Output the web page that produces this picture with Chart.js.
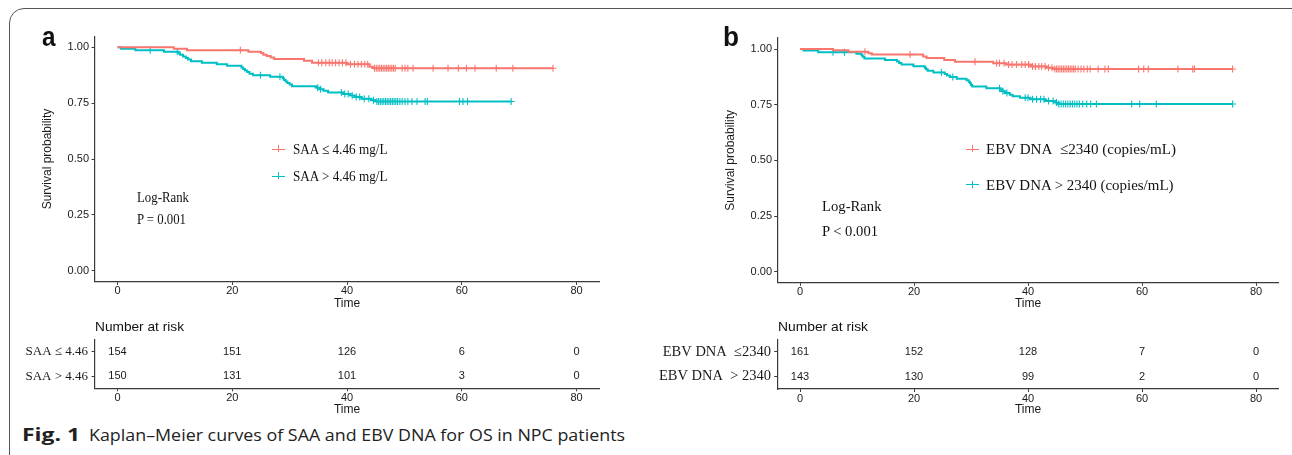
<!DOCTYPE html>
<html>
<head>
<meta charset="utf-8">
<script src="https://cdn.jsdelivr.net/npm/chart.js@4.4.1/dist/chart.umd.min.js"></script>
<style>
html, body { margin: 0; padding: 0; background: #fff; }
body { width: 1292px; height: 455px; position: relative; overflow: hidden; }
canvas { position: absolute; }
.frame { position: absolute; left: 9px; top: 8px; width: 1310px; height: 470px; border: 1.5px solid #555; border-radius: 15px; box-sizing: border-box; }
.t { position: absolute; white-space: pre; transform-origin: 0 0; line-height: 1; color: #111; }
.serif { font-family: "Liberation Serif", "Times New Roman", serif; }
.sans { font-family: "Liberation Sans", Arial, sans-serif; }
.cap { font-family: "Open Sans", "Noto Sans", sans-serif; color: #222; font-size: 17px; }
.key { position: absolute; width: 13px; height: 0; border-top: 1.8px solid; }
.key:after { content: ""; position: absolute; left: 6px; top: -4.3px; height: 7px; border-left: 1.2px solid; }
</style>
</head>
<body>
<div class="frame"></div>

<canvas id="kmA" width="620" height="300" style="left:0px;top:20px"></canvas>
<canvas id="kmB" width="652" height="300" style="left:640px;top:20px"></canvas>
<canvas id="riskA" width="620" height="112" style="left:0px;top:310px"></canvas>
<canvas id="riskB" width="652" height="112" style="left:640px;top:310px"></canvas>

<div class="t sans" style="left:41.5px;top:23.3px;font-size:28px;font-weight:bold" data-w="13.5">a</div>
<div class="t sans" style="left:723px;top:23.3px;font-size:28px;font-weight:bold" data-w="16">b</div>

<div class="key" style="left:272px;top:148.5px;color:#F8766D"></div>
<div class="t serif" style="left:292.5px;top:141.7px;font-size:15px" data-w="94.5">SAA ≤ 4.46 mg/L</div>
<div class="key" style="left:272px;top:175.5px;color:#00BFC4"></div>
<div class="t serif" style="left:292.5px;top:168.7px;font-size:15px" data-w="94.5">SAA &gt; 4.46 mg/L</div>
<div class="t serif" style="left:137px;top:190.1px;font-size:15px" data-w="52">Log-Rank</div>
<div class="t serif" style="left:137px;top:212.4px;font-size:15px" data-w="49">P = 0.001</div>

<div class="key" style="left:966px;top:148.5px;color:#F8766D"></div>
<div class="t serif" style="left:986px;top:141.4px;font-size:15.5px" data-w="190">EBV DNA&nbsp; ≤2340 (copies/mL)</div>
<div class="key" style="left:966px;top:184.2px;color:#00BFC4"></div>
<div class="t serif" style="left:986px;top:177.1px;font-size:15.5px" data-w="187.5">EBV DNA &gt; 2340 (copies/mL)</div>
<div class="t serif" style="left:821.7px;top:198.1px;font-size:15.5px" data-w="59.5">Log-Rank</div>
<div class="t serif" style="left:821.7px;top:223.1px;font-size:15.5px" data-w="56">P &lt; 0.001</div>

<div class="t sans" style="left:95px;top:320.3px;font-size:13px" data-w="89">Number at risk</div>
<div class="t sans" style="left:778px;top:320.3px;font-size:13px" data-w="90">Number at risk</div>

<div class="t cap" style="left:21.7px;top:426px;font-weight:bold" data-w="58">Fig. 1</div>
<div class="t cap" style="left:89.3px;top:426px" data-w="536">Kaplan–Meier curves of SAA and EBV DNA for OS in NPC patients</div>

<script>
// axis ticks
const xTicks = [0, 20, 40, 60, 80];
const yTicks = [0, 0.25, 0.5, 0.75, 1];
const riskTimes = [0, 20, 40, 60, 80];

// panel a: SAA
const saaRowLabels = ['SAA ≤ 4.46', 'SAA > 4.46'];
const saaLowTime = [0, 9.8, 12.1, 22.8, 25.0, 25.4, 26.0, 26.7, 27.3, 32.5, 33.9, 40.0, 43.9, 44.5];
const saaLowSurv = [1, 0.993, 0.987, 0.980, 0.974, 0.967, 0.961, 0.954, 0.947, 0.940, 0.931, 0.924, 0.913, 0.906];
const saaLowCens = [21.4, 35.0, 35.6, 36.3, 36.9, 37.4, 38.0, 38.6, 39.2, 39.8, 40.6, 41.3, 41.9, 42.5, 43.1, 43.6,
  44.8, 45.1, 45.4, 45.7, 46.0, 46.3, 46.6, 46.9, 47.2, 47.5, 47.8, 48.1, 48.4, 49.6, 50.1, 50.6, 51.5,
  55.0, 57.6, 59.4, 60.8, 62.3, 66.0, 68.9, 75.9];
const saaHighTime = [0, 0.6, 3.1, 8.1, 10.6, 10.9, 11.4, 11.9, 12.3, 12.8, 14.7, 17.3, 19.1, 21.6, 21.9, 22.2, 22.6, 23.0,
  23.6, 26.6, 28.8, 29.0, 29.3, 29.6, 30.0, 30.4, 34.7, 35.2, 35.9, 36.7, 39.3, 40.6, 41.3, 42.5, 44.2, 45.0];
const saaHighSurv = [1, 0.993, 0.987, 0.980, 0.973, 0.966, 0.959, 0.952, 0.945, 0.938, 0.931, 0.924, 0.917, 0.910, 0.903,
  0.896, 0.889, 0.882, 0.875, 0.868, 0.861, 0.854, 0.847, 0.840, 0.833, 0.826, 0.819, 0.812, 0.805, 0.798, 0.791, 0.784,
  0.777, 0.770, 0.763, 0.757];
const saaHighCens = [5.7, 10.4, 24.9, 28.3, 34.9, 35.4, 39.0, 39.6, 40.2, 40.9, 41.6, 42.2, 43.0, 43.8, 44.6, 45.2, 45.5,
  45.8, 46.1, 46.4, 46.7, 47.0, 47.3, 47.6, 47.9, 48.2, 48.5, 48.8, 49.2, 49.6, 50.1, 50.6, 51.3, 52.2, 53.6, 54.0,
  59.6, 60.2, 61.0, 68.6];
const saaLowRisk = [154, 151, 126, 6, 0];
const saaHighRisk = [150, 131, 101, 3, 0];

// panel b: EBV DNA
const ebvRowLabels = ['EBV DNA  ≤2340', 'EBV DNA  > 2340'];
const ebvLowTime = [0, 5.8, 8.5, 12.0, 12.6, 21.6, 22.2, 25.3, 27.2, 33.9, 36.2, 40.5, 43.2, 44.4];
const ebvLowSurv = [1, 0.994, 0.988, 0.981, 0.975, 0.967, 0.960, 0.951, 0.943, 0.936, 0.930, 0.922, 0.916, 0.910];
const ebvLowCens = [11.4, 19.3, 30.7, 34.5, 35.0, 35.8, 36.6, 37.2, 38.0, 38.9, 39.5, 40.1, 40.8, 41.3, 41.9, 42.4, 43.0,
  43.6, 44.2, 44.7, 45.0, 45.3, 45.6, 45.9, 46.2, 46.5, 46.8, 47.1, 47.4, 47.7, 48.0, 48.3, 48.8, 49.3, 49.8, 50.4,
  50.9, 52.3, 53.5, 54.1, 59.4, 60.3, 61.1, 66.3, 68.9, 69.2, 75.9];
const ebvHighTime = [0, 0.6, 3.2, 9.9, 10.8, 11.0, 11.3, 14.9, 17.0, 17.4, 17.8, 19.9, 21.9, 22.1, 22.4, 23.4, 25.4, 25.8,
  26.3, 27.5, 29.2, 29.6, 29.8, 30.0, 30.2, 32.7, 35.1, 35.5, 36.0, 36.8, 37.3, 38.6, 40.4, 43.0, 44.7, 45.3];
const ebvHighSurv = [1, 0.993, 0.986, 0.979, 0.972, 0.965, 0.958, 0.951, 0.944, 0.937, 0.930, 0.923, 0.916, 0.909, 0.902,
  0.895, 0.888, 0.881, 0.874, 0.867, 0.860, 0.853, 0.846, 0.839, 0.832, 0.824, 0.817, 0.810, 0.802, 0.795, 0.788, 0.781,
  0.774, 0.767, 0.760, 0.753];
const ebvHighCens = [5.8, 7.8, 24.8, 26.8, 35.0, 35.6, 36.3, 39.5, 40.0, 40.8, 41.5, 42.2, 42.8, 43.6, 44.4, 45.0, 45.4,
  45.8, 46.2, 46.6, 47.0, 47.4, 47.8, 48.2, 48.6, 49.0, 49.6, 50.3, 51.0, 52.0, 58.2, 59.6, 62.5, 75.9];
const ebvLowRisk = [161, 152, 128, 7, 0];
const ebvHighRisk = [143, 130, 99, 2, 0];

const RED = '#F8766D', TEAL = '#00BFC4', AXIS = '#3a3a3a', INK = '#1a1a1a';
const tickFont = { family: '"Liberation Sans", Arial, sans-serif', size: 11 };
const titleFont = { family: '"Liberation Sans", Arial, sans-serif', size: 12 };

// survival value of a step curve at time t
function survAt(T, S, t) {
  let s = S[0];
  for (let i = 0; i < T.length; i++) if (T[i] <= t) s = S[i];
  return s;
}

function curveSets(T, S, C, color) {
  const pts = T.map((t, i) => ({ x: t, y: S[i] }));
  pts.push({ x: Math.max(...C), y: S[S.length - 1] });
  return [
    { data: pts, stepped: 'before', borderColor: color, borderWidth: 2, pointRadius: 0, fill: false },
    { data: C.map(t => ({ x: t, y: survAt(T, S, t) })), showLine: false, pointStyle: 'cross',
      pointRadius: 3.5, borderColor: color, pointBorderWidth: 1.1, borderWidth: 1.1 }
  ];
}

function xAxis(g) {
  return {
    type: 'linear', min: -4, max: 84,
    afterBuildTicks: s => { s.ticks = xTicks.map(v => ({ value: v })); },
    afterFit: s => { s.height = g.xh; },
    ticks: { font: tickFont, color: INK, padding: g.xpad, maxRotation: 0, autoSkip: false },
    grid: { drawOnChartArea: false, drawTicks: true, tickLength: 3, color: AXIS, lineWidth: 1 },
    border: { color: AXIS, width: 1.2 },
    title: { display: true, text: 'Time', font: titleFont, color: INK, padding: { top: 0, bottom: g.xtb } }
  };
}

function kmChart(id, sets, g) {
  new Chart(document.getElementById(id), {
    type: 'line',
    data: { datasets: sets },
    options: {
      responsive: false, animation: false,
      layout: { padding: { left: 0, top: g.top, right: g.right, bottom: 0 } },
      plugins: { legend: { display: false }, tooltip: { enabled: false } },
      scales: {
        x: xAxis(g),
        y: {
          type: 'linear', min: -0.05, max: 1.05,
          afterBuildTicks: s => { s.ticks = yTicks.map(v => ({ value: v })); },
          afterFit: s => { s.width = g.yw; },
          ticks: { font: tickFont, color: INK, padding: g.ypad, callback: v => v.toFixed(2) },
          grid: { drawOnChartArea: false, drawTicks: true, tickLength: 3, color: AXIS, lineWidth: 1 },
          border: { color: AXIS, width: 1.2 },
          title: { display: true, text: 'Survival probability', font: titleFont, color: INK, padding: { top: g.ytp, bottom: 0 } }
        }
      }
    }
  });
}

const riskText = {
  id: 'riskText',
  afterDatasetsDraw(chart) {
    const ctx = chart.ctx;
    ctx.save();
    ctx.font = '11px "Liberation Sans", Arial, sans-serif';
    ctx.fillStyle = INK;
    ctx.textAlign = 'center';
    ctx.textBaseline = 'middle';
    chart.data.datasets.forEach((ds, i) => {
      chart.getDatasetMeta(i).data.forEach((el, j) => ctx.fillText(String(ds.counts[j]), el.x, el.y));
    });
    ctx.restore();
  }
};

function riskChart(id, rows, counts, g) {
  new Chart(document.getElementById(id), {
    type: 'scatter',
    data: {
      datasets: rows.map((r, i) => ({
        data: riskTimes.map(t => ({ x: t, y: r })), counts: counts[i], pointRadius: 0
      }))
    },
    options: {
      responsive: false, animation: false,
      layout: { padding: { left: 0, top: g.top, right: g.right, bottom: 0 } },
      plugins: { legend: { display: false }, tooltip: { enabled: false } },
      scales: {
        x: xAxis(g),
        y: {
          type: 'category', labels: rows, offset: true,
          afterFit: s => { s.width = g.yw; },
          ticks: { font: { family: '"Liberation Serif", "Times New Roman", serif', size: g.rowSize }, color: INK, padding: g.ypad },
          grid: { drawOnChartArea: false, drawTicks: true, tickLength: 3, color: AXIS, lineWidth: 1 },
          border: { color: AXIS, width: 1.2 }
        }
      }
    },
    plugins: [riskText]
  });
}

kmChart('kmA', [...curveSets(saaLowTime, saaLowSurv, saaLowCens, RED), ...curveSets(saaHighTime, saaHighSurv, saaHighCens, TEAL)],
  { top: 16.1, right: 20.5, yw: 94.6, xh: 38.1, ypad: 2.6, xpad: -0.5, ytp: 40.8, xtb: 8.8 });
kmChart('kmB', [...curveSets(ebvLowTime, ebvLowSurv, ebvLowCens, RED), ...curveSets(ebvHighTime, ebvHighSurv, ebvHighCens, TEAL)],
  { top: 17.9, right: 13.2, yw: 137.2, xh: 37.2, ypad: 2.2, xpad: -0.7, ytp: 83.4, xtb: 8.8 });
riskChart('riskA', saaRowLabels, [saaLowRisk, saaHighRisk],
  { top: 29.5, right: 20.5, yw: 94.6, xh: 33.7, ypad: 3.6, xpad: 0.4, xtb: 5.5, rowSize: 13 });
riskChart('riskB', ebvRowLabels, [ebvLowRisk, ebvHighRisk],
  { top: 29.5, right: 13.2, yw: 137.2, xh: 33, ypad: 3.2, xpad: 0, xtb: 5.5, rowSize: 14.5 });

// squeeze the overlay texts to the widths measured on the figure
function fitTexts() {
  document.querySelectorAll('.t[data-w]').forEach(el => {
    el.style.transform = 'none';
    const w = el.getBoundingClientRect().width;
    if (w > 0) el.style.transform = 'scaleX(' + (parseFloat(el.dataset.w) / w) + ')';
  });
}
fitTexts();
if (document.fonts && document.fonts.ready) document.fonts.ready.then(fitTexts);
</script>
</body>
</html>
